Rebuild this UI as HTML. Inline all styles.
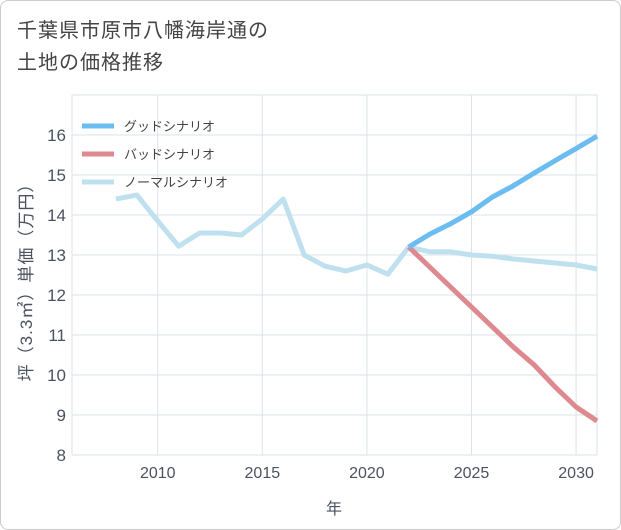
<!DOCTYPE html>
<html><head><meta charset="utf-8"><style>
body{margin:0;background:#fff;}
#wrap{position:relative;width:619px;height:528px;border:1px solid #ccc;border-radius:8px;background:#fff;font-family:"Liberation Sans","Noto Sans CJK JP",sans-serif;overflow:hidden;}
#title{position:absolute;left:16px;top:14px;font-size:20px;line-height:32px;color:#444;letter-spacing:1px;}
svg text{font-family:"Liberation Sans","Noto Sans CJK JP",sans-serif;}
</style></head><body>
<div id="wrap">
<div id="title">千葉県市原市八幡海岸通の<br>土地の価格推移</div>
<svg id="chart" width="621" height="530" style="position:absolute;left:-1px;top:-1px"></svg>
</div>
<script>
const years=[2008,2009,2010,2011,2012,2013,2014,2015,2016,2017,2018,2019,2020,2021,2022,2023,2024,2025,2026,2027,2028,2029,2030,2031];
const normalVals=[14.4,14.5,13.85,13.22,13.55,13.55,13.5,13.9,14.4,13.0,12.72,12.6,12.75,12.52,13.2,13.08,13.08,13.0,12.97,12.9,12.85,12.8,12.75,12.65];
const futureYears=[2022,2023,2024,2025,2026,2027,2028,2029,2030,2031];
const goodVals=[13.2,13.52,13.78,14.08,14.45,14.73,15.05,15.36,15.66,15.97];
const badVals=[13.2,12.7,12.2,11.7,11.2,10.7,10.25,9.7,9.2,8.85];
const yTicks=[8,9,10,11,12,13,14,15,16];
const xTicks=[2010,2015,2020,2025,2030];
const legendLabels=["グッドシナリオ","バッドシナリオ","ノーマルシナリオ"];
const legendColors=["#6bbcf0","#de8890","#bfe0ee"];

const L=72,R=597,T=95,B=455;
const x=v=>L+(v-2005.9)*(R-L)/(2031-2005.9);
const y=v=>B-(v-8)*(B-T)/9;
const svg=document.getElementById('chart');
const NS='http://www.w3.org/2000/svg';
function mk(tag,attrs,parent){const e=document.createElementNS(NS,tag);for(const k in attrs)e.setAttribute(k,attrs[k]);(parent||svg).appendChild(e);return e;}

const bg=mk('rect',{x:L,y:T,width:R-L,height:B-T,fill:'#fff',stroke:'#dde3e8'});


yTicks.forEach(t=>{
  const g=mk('line',{x1:L,x2:R,y1:y(t),y2:y(t),stroke:'#dde3e8'});
  
  
  const tx=mk('text',{x:66,y:y(t)+6,'text-anchor':'end','font-size':17,fill:'#4a5260'});
  tx.textContent=t;
  
  
});
xTicks.forEach(t=>{
  const g=mk('line',{x1:x(t),x2:x(t),y1:T,y2:B,stroke:'#dde3e8'});
  
  
  const tx=mk('text',{x:x(t),y:478,'text-anchor':'middle','font-size':16,fill:'#4a5260'});
  tx.textContent=t;
  
  
});
function line(xs,vs,color,name){
  const p=mk('polyline',{points:xs.map((v,i)=>x(v)+','+y(vs[i])).join(' '),fill:'none',stroke:color,'stroke-width':5,'stroke-linejoin':'round'});
  
  
}
line(years,normalVals,legendColors[2],'normal-scenario-line');
line(futureYears,badVals,legendColors[1],'bad-scenario-line');
line(futureYears,goodVals,legendColors[0],'good-scenario-line');

legendLabels.forEach((lab,i)=>{
  const ly=126+i*28;
  const l=mk('line',{x1:82,x2:114,y1:ly,y2:ly,stroke:legendColors[i],'stroke-width':5});
  
  
  const t=mk('text',{x:124,y:ly+5,'font-size':13,fill:'#444'});
  t.textContent=lab;
  
  
});
const xt=mk('text',{x:334,y:514,'text-anchor':'middle','font-size':16,fill:'#4a5260'});
xt.textContent='年';


const yt=mk('text',{x:0,y:0,'text-anchor':'middle','font-size':17,'letter-spacing':1,fill:'#4a5260',transform:'translate(32,278) rotate(-90)'});
yt.textContent='坪（3.3㎡）単価（万円）';


</script>
</body></html>
